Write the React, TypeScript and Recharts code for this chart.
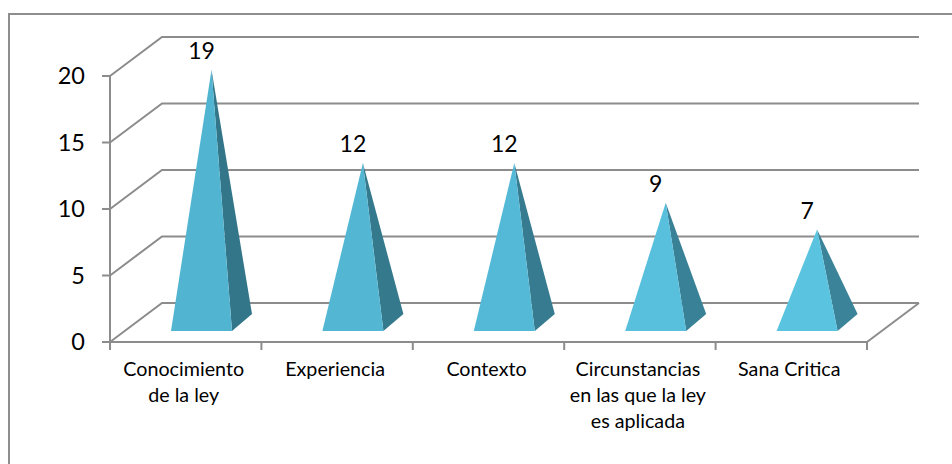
import { Bar, BarChart, CartesianGrid, LabelList, XAxis, YAxis } from 'recharts'

const categories = [
  'Conocimiento\nde la ley',
  'Experiencia',
  'Contexto',
  'Circunstancias\nen las que la ley\nes aplicada',
  'Sana Critica',
]
const values = [19, 12, 12, 9, 7]
const yTicks = [0, 5, 10, 15, 20]
const frontColors = ['#51b4d1', '#53b7d4', '#54b9d6', '#58bfdd', '#5ac3e0']
const sideColors = ['#33768a', '#35798d', '#367b90', '#398197', '#3a8398']

const data = categories.map((name, i) => ({ name, value: values[i] }))

const FONT = 'Lato, sans-serif'
const GRID = '#8c8c8c'
const DEPTH_X = 52
const DEPTH_Y = 39
const PLOT_LEFT = 110
const PLOT_RIGHT = 867

// pared y fondo en falsa perspectiva
const WallLine = ({ x1, x2, y1 }: any) => (
  <polyline
    points={`${x1},${y1} ${x1 + DEPTH_X},${y1 - DEPTH_Y} ${x2 + DEPTH_X},${y1 - DEPTH_Y}`}
    fill="none"
    stroke={GRID}
    strokeWidth={2}
  />
)

const Pyramid = ({ x, y, width, height, index }: any) => {
  const cx = x + width / 2 + DEPTH_X / 2
  const baseY = y + height - DEPTH_Y / 2
  const apexY = y - DEPTH_Y / 2
  const half = width / 2
  const fl = `${cx - half - 10},${baseY + 8.5}`
  const fr = `${cx + half - 10},${baseY + 8.5}`
  const br = `${cx + half + 10},${baseY - 8.5}`
  const apex = `${cx},${apexY}`
  return (
    <g>
      <polygon points={`${fr} ${br} ${apex}`} fill={sideColors[index]} />
      <polygon points={`${fl} ${fr} ${apex}`} fill={frontColors[index]} />
    </g>
  )
}

const ValueLabel = ({ x, y, width, value }: any) => (
  <text
    x={x + width / 2 + 16}
    y={y - 30}
    textAnchor="middle"
    fontFamily={FONT}
    fontSize={23}
    fill="#000"
  >
    {value}
  </text>
)

const CategoryTick = ({ x, y, payload, index }: any) => {
  const band = (PLOT_RIGHT - PLOT_LEFT) / categories.length
  const left = x - band / 2
  return (
    <g>
      <line x1={left} x2={left} y1={y - 8} y2={y} stroke={GRID} strokeWidth={2} />
      {index === categories.length - 1 && (
        <>
          <line x1={x + band / 2} x2={x + band / 2} y1={y - 8} y2={y} stroke={GRID} strokeWidth={2} />
          <line
            x1={x + band / 2}
            y1={y - 8}
            x2={x + band / 2 + DEPTH_X}
            y2={y - 8 - DEPTH_Y}
            stroke={GRID}
            strokeWidth={2}
          />
        </>
      )}
      <text textAnchor="middle" fontFamily={FONT} fontSize={19.7} fill="#000">
        {String(payload.value)
          .split('\n')
          .map((line, i) => (
            <tspan key={i} x={x - 2} y={y + 26 + i * 26}>
              {line}
            </tspan>
          ))}
      </text>
    </g>
  )
}

export default function App() {
  return (
    <div
      style={{
        position: 'absolute',
        left: 0,
        top: 0,
        width: 952,
        height: 464,
        background: '#fff',
        overflow: 'hidden',
      }}
    >
      <div
        style={{
          position: 'absolute',
          left: 8,
          top: 13,
          width: 960,
          height: 480,
          border: '2px solid #8e8e8e',
          boxSizing: 'border-box',
        }}
      />
      <BarChart
        width={952}
        height={464}
        data={data}
        margin={{ top: 76, right: 85, bottom: 0, left: 0 }}
        barSize={61}
        style={{ position: 'absolute', left: 0, top: 0 }}
      >
        <CartesianGrid vertical={false} horizontal={WallLine} />
        <XAxis
          dataKey="name"
          axisLine={{ stroke: GRID, strokeWidth: 2 }}
          tickLine={false}
          tick={CategoryTick}
          height={122}
          interval={0}
        />
        <YAxis
          domain={[0, 20]}
          ticks={yTicks}
          width={110}
          axisLine={{ stroke: GRID, strokeWidth: 2 }}
          tickLine={{ stroke: GRID, strokeWidth: 2 }}
          tickSize={8}
          tick={{ fontFamily: FONT, fontSize: 23.5, fill: '#000' }}
          tickMargin={17}
        />
        <Bar dataKey="value" shape={Pyramid} isAnimationActive={false}>
          <LabelList dataKey="value" content={ValueLabel} />
        </Bar>
      </BarChart>
    </div>
  )
}
